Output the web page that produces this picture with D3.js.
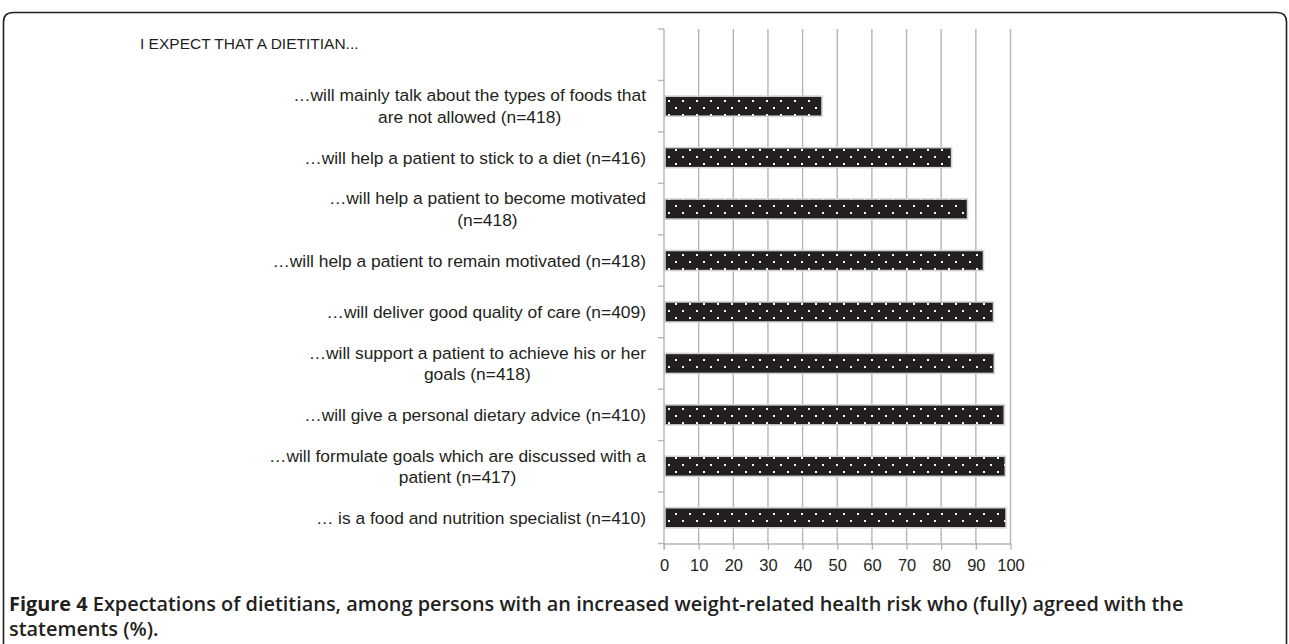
<!DOCTYPE html>
<html>
<head>
<meta charset="utf-8">
<script src="https://cdn.jsdelivr.net/npm/d3@7"></script>
<style>
  body { margin: 0; background: #fff; }
  svg { display: block; }
</style>
</head>
<body>
<script>
// statements (top to bottom), each split into the lines shown in the figure
var header = "I EXPECT THAT A DIETITIAN...";
var labels = [
    ["\u2026will mainly talk about the types of foods that", "are not allowed (n=418)"],
    ["\u2026will help a patient to stick to a diet (n=416)"],
    ["\u2026will help a patient to become motivated", "(n=418)"],
    ["\u2026will help a patient to remain motivated (n=418)"],
    ["\u2026will deliver good quality of care (n=409)"],
    ["\u2026will support a patient to achieve his or her", "goals (n=418)"],
    ["\u2026will give a personal dietary advice (n=410)"],
    ["\u2026will formulate goals which are discussed with a", "patient (n=417)"],
    ["\u2026 is a food and nutrition specialist (n=410)"]
];
var values = [45.6, 83.0, 87.6, 92.2, 95.1, 95.3, 98.2, 98.5, 98.7];
var xTicks = [0, 10, 20, 30, 40, 50, 60, 70, 80, 90, 100];

width = 1289;
height = 644;
margin = { top: 29, right: 278.5, bottom: 100.5, left: 664 }

var ink = "#231f20";
var gridCol = "#b5b5b5";

const svg = d3.select("body").append("svg")
    .attr("width", width)
    .attr("height", height);

// dotted fill for the bars
var pat = svg.append("defs").append("pattern")
    .attr("id", "dots")
    .attr("patternUnits", "userSpaceOnUse")
    .attr("width", 14)
    .attr("height", 14)
    .attr("x", margin.left)
    .attr("y", 0);
pat.append("rect").attr("width", 14).attr("height", 14).attr("fill", ink);
pat.append("rect").attr("x", 4).attr("y", 2).attr("width", 2).attr("height", 2).attr("fill", "#fff");
pat.append("rect").attr("x", 11).attr("y", 9).attr("width", 2).attr("height", 2).attr("fill", "#fff");

// frame, rounded at the top, open at the bottom
svg.append("path")
    .attr("d", "M3.5," + (height + 2) + " V22 Q3.5,12.5 13.5,12.5 H1277 Q1286.5,12.5 1286.5,22 V" + (height + 2))
    .attr("fill", "none")
    .attr("stroke", ink)
    .attr("stroke-width", 1.6);

var rows = d3.range(labels.length + 1); // row 0 holds the header

x = d3.scaleLinear()
    .domain([0, 100])
    .range([margin.left, width - margin.right]);

y = d3.scaleBand()
    .domain(rows)
    .range([margin.top, height - margin.bottom]);

// vertical grid
svg.append("g")
    .selectAll("line")
    .data(xTicks.slice(1))
    .join("line")
    .attr("x1", d => x(d))
    .attr("x2", d => x(d))
    .attr("y1", margin.top)
    .attr("y2", height - margin.bottom)
    .attr("stroke", gridCol)
    .attr("stroke-width", 1.4);

// bars
var barH = y.bandwidth() * 0.39;
svg.append("g")
    .selectAll("rect")
    .data(values)
    .join("rect")
    .attr("x", x(0) + 1)
    .attr("y", (d, i) => y(i + 1) + (y.bandwidth() - barH) / 2)
    .attr("width", d => x(d) - x(0) - 1)
    .attr("height", barH)
    .attr("fill", "url(#dots)")
    .attr("stroke", "#d2d2d2")
    .attr("stroke-width", 1.6);

// left axis with ticks at band boundaries
var yAxis = svg.append("g").attr("stroke", gridCol).attr("stroke-width", 1.4);
yAxis.append("line")
    .attr("x1", x(0)).attr("x2", x(0))
    .attr("y1", margin.top).attr("y2", height - margin.bottom + 6);
yAxis.selectAll(".yt")
    .data(rows.concat([rows.length]))
    .join("line")
    .attr("class", "yt")
    .attr("x1", x(0) - 6).attr("x2", x(0))
    .attr("y1", d => d < rows.length ? y(d) : height - margin.bottom)
    .attr("y2", d => d < rows.length ? y(d) : height - margin.bottom);

// bottom axis
var xAxis = g => g
    .attr("transform", `translate(0,${height - margin.bottom})`)
    .call(d3.axisBottom(x).tickValues(xTicks).tickSize(6).tickSizeOuter(0).tickPadding(10))
    .call(g => g.select(".domain").attr("stroke", gridCol).attr("stroke-width", 1.4))
    .call(g => g.selectAll(".tick line").attr("stroke", gridCol).attr("stroke-width", 1.4))
    .call(g => g.selectAll(".tick text")
        .attr("fill", ink)
        .attr("font-family", "Liberation Sans, Arial, sans-serif")
        .attr("font-size", 16.5));
svg.append("g").call(xAxis);

// category labels: each block right-aligned, its lines centred
var lineGap = 21.5;
var labelRight = 646;
var lab = svg.append("g")
    .attr("font-family", "Liberation Sans, Arial, sans-serif")
    .attr("font-size", 17.4)
    .attr("fill", ink);
labels.forEach(function(lines, i) {
    var cy = y(i + 1) + y.bandwidth() / 2;
    var t = lab.append("text").attr("text-anchor", "middle");
    lines.forEach(function(s, j) {
        t.append("tspan")
            .attr("y", cy + (j - (lines.length - 1) / 2) * lineGap + 6)
            .text(s);
    });
    var w = d3.max(t.selectAll("tspan").nodes(), n => n.getComputedTextLength());
    t.selectAll("tspan").attr("x", labelRight - w / 2);
});

lab.append("text")
    .attr("x", 140)
    .attr("y", 48.5)
    .attr("font-size", 15.5)
    .text(header);

// caption
var cap = svg.append("g")
    .attr("font-family", "Open Sans, Noto Sans, sans-serif")
    .attr("font-size", 19.9)
    .attr("fill", ink);
var c1 = cap.append("text").attr("x", 9).attr("y", 611);
c1.append("tspan").attr("font-weight", 700).text("Figure 4");
c1.append("tspan").attr("font-weight", 600)
    .text(" Expectations of dietitians, among persons with an increased weight-related health risk who (fully) agreed with the");
cap.append("text").attr("x", 9).attr("y", 636).attr("font-weight", 600).text("statements (%).");
</script>
</body>
</html>
